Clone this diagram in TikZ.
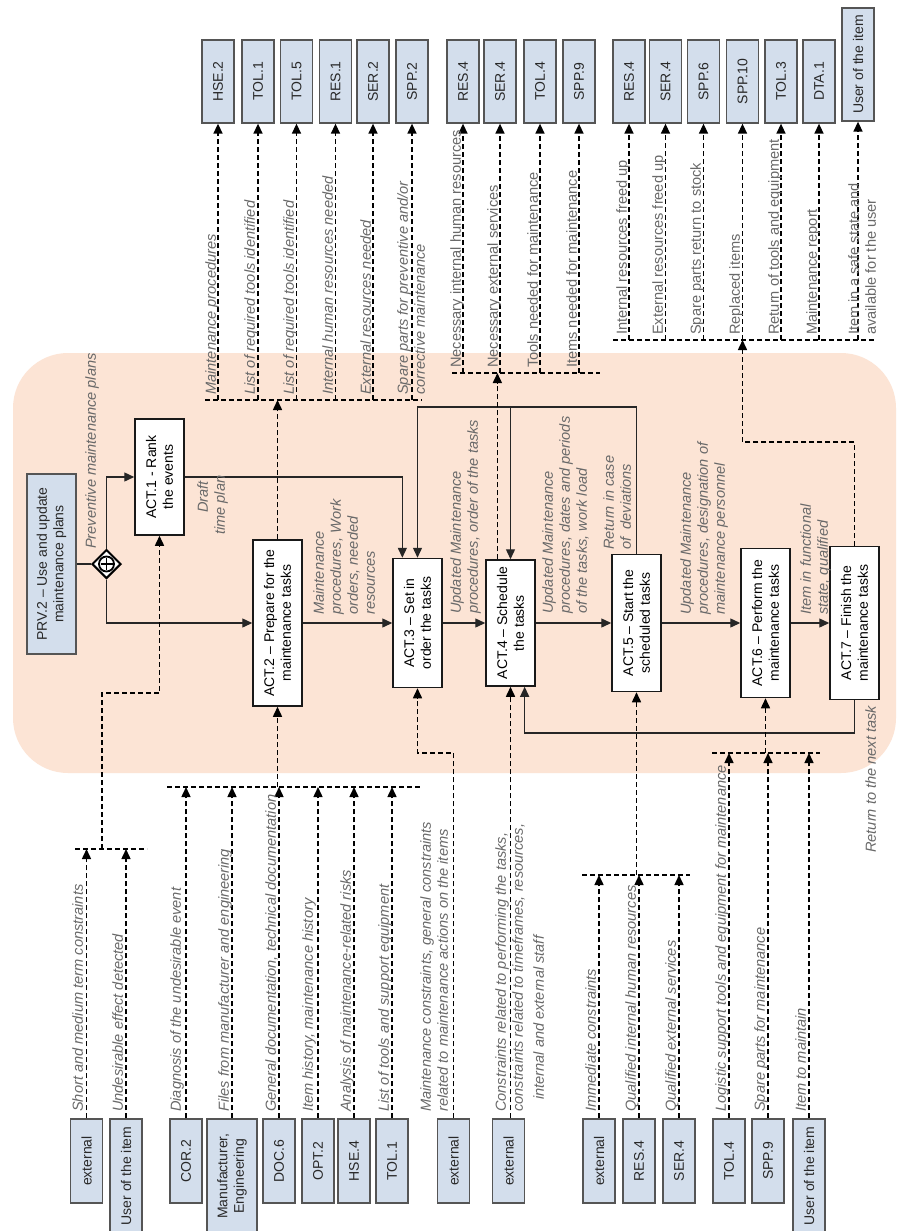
\documentclass[tikz,border=0pt]{standalone}
\usepackage{fontspec}
\setmainfont{Liberation Sans}
\usetikzlibrary{arrows.meta,shapes.geometric,calc}

\definecolor{areafill}{RGB}{252,228,213}
\definecolor{boxblue}{RGB}{211,222,236}
\definecolor{boxline}{RGB}{85,85,85}
\definecolor{labelgray}{RGB}{105,105,105}
\definecolor{boxtext}{RGB}{40,40,40}

\newcommand{\txtfont}{\fontsize{14}{16.7}\selectfont}
\newcommand{\labfont}{\fontsize{14.6}{17}\selectfont}

\tikzset{
  every node/.style={inner sep=0pt},
  refbox/.style={draw=boxline, line width=1.3pt, fill=boxblue, rotate=90,
    minimum width=84pt, minimum height=32pt, text=boxtext, font=\txtfont, align=center},
  tallbox/.style={refbox, minimum width=114pt},
  actbox/.style={draw=black!90, line width=1.5pt, fill=white, rotate=90,
    minimum height=49pt, text=black, font=\txtfont, align=center},
  lab/.style={rotate=90, anchor=north west, text=labelgray, font=\labfont\itshape, align=left},
  labup/.style={rotate=90, anchor=north west, text=labelgray, font=\labfont, align=left},
  dl/.style={draw=black, line width=1.5pt, dash pattern=on 5pt off 3pt},
  sl/.style={draw=black!85, line width=1.4pt},
  arr/.style={-{Triangle[length=10pt,width=9pt]}},
  gateway/.style={diamond, draw=black, line width=2pt, fill=white, minimum width=29pt, minimum height=29pt}
}

\begin{document}
\begin{tikzpicture}[x=1pt,y=-1pt]
\useasboundingbox (0,0) rectangle (898,1231);
\fill[white] (0,0) rectangle (898,1231);

% process area
\fill[areafill, rounded corners=55pt] (13,353) rectangle (896,773);

% ---------- activities ----------
\node[refbox, minimum width=180pt, minimum height=49pt] (prv) at (51.5,564) {PRV.2 -- Use and update\\maintenance plans};
\node[gateway] (gw) at (106.5,564) {};
\draw[line width=1.8pt] (gw.center) circle (7.5pt);
\draw[line width=1.8pt] ($(gw.center)+(-6,0)$) -- ($(gw.center)+(6,0)$);
\draw[line width=1.8pt] ($(gw.center)+(0,-6)$) -- ($(gw.center)+(0,6)$);

\node[actbox, minimum width=116pt] (ACT1) at (159.5,477) {ACT.1 - Rank\\the events};
\node[actbox, minimum width=166pt] (ACT2) at (277.5,623) {ACT.2 -- Prepare for the\\maintenance tasks};
\node[actbox, minimum width=129pt] (ACT3) at (417.5,623) {ACT.3 -- Set in\\order the tasks};
\node[actbox, minimum width=126pt] (ACT4) at (510.5,623) {ACT.4 -- Schedule\\the tasks};
\node[actbox, minimum width=137pt] (ACT5) at (636.5,623) {ACT.5 -- Start the\\scheduled tasks};
\node[actbox, minimum width=149pt] (ACT6) at (765.5,623) {ACT.6 -- Perform the\\maintenance tasks};
\node[actbox, minimum width=153pt] (ACT7) at (854.5,623) {ACT.7 -- Finish the\\maintenance tasks};

% ---------- input references ----------
\node[refbox] (i1) at (86.5,1161) {external};
\node[tallbox] (i2) at (126,1176) {User of the item};
\node[refbox] (i3) at (186,1161) {COR.2};
\node[tallbox, minimum height=50pt] (i4) at (232,1176) {Manufacturer,\\Engineering};
\node[refbox] (i5) at (279,1161) {DOC.6};
\node[refbox] (i6) at (318,1161) {OPT.2};
\node[refbox] (i7) at (354,1161) {HSE.4};
\node[refbox] (i8) at (392,1161) {TOL.1};
\node[refbox] (i9) at (453.5,1161) {external};
\node[refbox] (i10) at (508.5,1161) {external};
\node[refbox] (i11) at (599,1161) {external};
\node[refbox] (i12) at (639,1161) {RES.4};
\node[refbox] (i13) at (679,1161) {SER.4};
\node[refbox] (i14) at (729,1161) {TOL.4};
\node[refbox] (i15) at (768,1161) {SPP.9};
\node[tallbox] (i16) at (809,1176) {User of the item};

% ---------- output references ----------
\node[refbox, minimum width=83pt] (o1) at (218,81.5) {HSE.2};
\node[refbox, minimum width=83pt] (o2) at (258,81.5) {TOL.1};
\node[refbox, minimum width=83pt] (o3) at (296.5,81.5) {TOL.5};
\node[refbox, minimum width=83pt] (o4) at (335.5,81.5) {RES.1};
\node[refbox, minimum width=83pt] (o5) at (373,81.5) {SER.2};
\node[refbox, minimum width=83pt] (o6) at (412,81.5) {SPP.2};
\node[refbox, minimum width=83pt] (o7) at (463,81.5) {RES.4};
\node[refbox, minimum width=83pt] (o8) at (500,81.5) {SER.4};
\node[refbox, minimum width=83pt] (o9) at (540,81.5) {TOL.4};
\node[refbox, minimum width=83pt] (o10) at (579,81.5) {SPP.9};
\node[refbox, minimum width=83pt] (o11) at (629,81.5) {RES.4};
\node[refbox, minimum width=83pt] (o12) at (665.5,81.5) {SER.4};
\node[refbox, minimum width=83pt] (o13) at (703.5,81.5) {SPP.6};
\node[refbox, minimum width=83pt] (o14) at (742.5,81.5) {SPP.10};
\node[refbox, minimum width=83pt] (o15) at (781,81.5) {TOL.3};
\node[refbox, minimum width=83pt] (o16) at (819,81.5) {DTA.1};
\node[refbox, minimum width=113pt] (o17) at (858,64.5) {User of the item};

% ---------- collector levels ----------
\coordinate (k1) at (0,400);
\coordinate (k2) at (0,373);
\coordinate (k3) at (0,340);
\coordinate (c1) at (0,849);
\coordinate (c2) at (0,787);
\coordinate (c3) at (0,875);
\coordinate (c4) at (0,753);
\coordinate (j1) at (102,849);
\coordinate (j1t) at (0,693);
\coordinate (j3) at (0,753);
\coordinate (g3turn) at (0,442);
\coordinate (rtop) at (0,407);
\coordinate (rbot) at (0,733);
\coordinate (a3inA) at ($(ACT3.north east)!0.2!(ACT3.south east)$);
\coordinate (a4out) at ($(ACT4.north east)!0.24!(ACT4.south east)$);
\coordinate (a4inB) at ($(ACT4.north west)!0.78!(ACT4.south west)$);

% ---------- control flow ----------
\draw[sl] (prv.south) -- (gw.west);
\draw[sl,arr] (gw.north) |- (ACT1.north);
\draw[sl,arr] (gw.south) |- (ACT2.north);
\draw[sl,arr] (ACT1.south) -| (a3inA);
\draw[sl,arr] (ACT2.south) -- (ACT3.north);
\draw[sl,arr] (ACT3.south) -- (ACT4.north);
\draw[sl,arr] (ACT4.south) -- (ACT5.north);
\draw[sl,arr] (ACT5.south) -- (ACT6.north);
\draw[sl,arr] (ACT6.south) -- (ACT7.north);
\draw[sl,arr] (ACT5.east) |- (ACT3.east |- rtop) -- (ACT3.east);
\draw[sl,arr] (ACT4.east |- rtop) -- (ACT4.east);
\draw[sl,arr] (ACT7.west) |- (a4inB |- rbot) -- (a4inB);

% ---------- input collectors ----------
\draw[dl] (75,849) -- (147,849);
\foreach \n in {i1,i2} \draw[dl,arr] (\n.east) -- (\n.east |- c1);
\draw[dl,arr] (j1) |- (ACT1.west |- j1t) -- (ACT1.west);

\draw[dl] (167,787) -- (420,787);
\foreach \n in {i3,i4,i5,i6,i7,i8} \draw[dl,arr] (\n.east) -- (\n.east |- c2);
\draw[dl,arr] (ACT2.west |- c2) -- (ACT2.west);

\draw[dl,arr] (i9.east) |- (ACT3.west |- j3) -- (ACT3.west);
\draw[dl,arr] (ACT4.west |- i10.east) -- (ACT4.west);

\draw[dl] (582,875) -- (690,875);
\foreach \n in {i11,i12,i13} \draw[dl,arr] (\n.east) -- (\n.east |- c3);
\draw[dl,arr] (ACT5.west |- c3) -- (ACT5.west);

\draw[dl] (712,753) -- (820,753);
\foreach \n in {i14,i15,i16} \draw[dl,arr] (\n.east) -- (\n.east |- c4);
\draw[dl,arr] (ACT6.west |- c4) -- (ACT6.west);

% ---------- output collectors ----------
\draw[dl] (205,400) -- (422,400);
\draw[dl,arr] (ACT2.east) -- (ACT2.east |- k1);
\foreach \n in {o1,o2,o3,o4,o5,o6} \draw[dl,arr] (\n.west |- k1) -- (\n.west);

\draw[dl] (452,373) -- (600,373);
\draw[dl,arr] (a4out) -- (a4out |- k2);
\foreach \n in {o7,o8,o9,o10} \draw[dl,arr] (\n.west |- k2) -- (\n.west);

\draw[dl] (613,340) -- (876,340);
\draw[dl,arr] (ACT7.east) |- (o14.west |- g3turn) -- (o14.west |- k3);
\foreach \n in {o11,o12,o13,o14,o15,o16,o17} \draw[dl,arr] (\n.west |- k3) -- (\n.west);

% ---------- input labels ----------
\node[lab] (l1) at (72,1112) {Short and medium term constraints};
\node[lab] (l2) at (112,1112) {Undesirable effect detected};
\node[lab] (l3) at (170,1112) {Diagnosis of the undesirable event};
\node[lab] (l4) at (218,1112) {Files from manufacturer and engineering};
\node[lab] (l5) at (265,1112) {General documentation, technical documentation};
\node[lab] (l6) at (302,1112) {Item history, maintenance history};
\node[lab] (l7) at (340,1112) {Analysis of maintenance-related risks};
\node[lab] (l8) at (378,1112) {List of tools and support equipment};
\node[lab] (l9) at (420,1112) {Maintenance constraints, general constraints\\related to maintenance actions on the items};
\node[lab] (l10) at (495,1112) {Constraints related to performing the tasks,\\constraints related to timeframes, resources,\\[4pt]\hspace*{12pt}internal and external staff};
\node[lab] (l11) at (585,1112) {Immediate constraints};
\node[lab] (l12) at (625,1112) {Qualified internal human resources};
\node[lab] (l13) at (665,1112) {Qualified external services};
\node[lab] (l14) at (715,1112) {Logistic support tools and equipment for maintenance};
\node[lab] (l15) at (754,1112) {Spare parts for maintenance};
\node[lab] (l16) at (795,1112) {Item to maintain};

% ---------- output labels ----------
\node[lab] (m1) at (205,395) {Maintenance procedures};
\node[lab] (m2) at (244,395) {List of required tools identified};
\node[lab] (m3) at (283,395) {List of required tools identified};
\node[lab] (m4) at (322,395) {Internal human resources needed};
\node[lab] (m5) at (360,395) {External resources needed};
\node[lab] (m6) at (397,395) {Spare parts for preventive and/or\\corrective maintenance};
\node[labup] (m7) at (450,368) {Necessary internal human resources};
\node[labup] (m8) at (487,368) {Necessary external services};
\node[labup] (m9) at (527,368) {Tools needed for maintenance};
\node[labup] (m10) at (566,368) {Items needed for maintenance};
\node[labup] (m11) at (616,335) {Internal resources freed up};
\node[labup] (m12) at (652,335) {External resources freed up};
\node[labup] (m13) at (690,335) {Spare parts return to stock};
\node[labup] (m14) at (729,335) {Replaced items};
\node[labup] (m15) at (768,335) {Return of tools and equipment};
\node[labup] (m16) at (806,335) {Maintenance report};
\node[labup] (m17) at (848,335) {Item in a safe state and\\available for the user};

% ---------- flow labels ----------
\node[lab] (f1) at (85,549) {Preventive maintenance plans};
\node[lab] (f2) at (197,535) {\hspace*{22pt}Draft\\time plan};
\node[lab] (f3) at (313,615) {Maintenance\\procedures, Work\\orders, needed\\resources};
\node[lab] (f4) at (450,614) {Updated Maintenance\\procedures, order of the tasks};
\node[lab] (f5) at (542,614) {Updated Maintenance\\procedures, dates and periods\\of the tasks, work load};
\node[lab] (f6) at (603,550) {Return in case\\of \ deviations};
\node[lab] (f7) at (680,615) {Updated Maintenance\\procedures, designation of\\maintenance personnel};
\node[lab] (f8) at (800,615) {Item in functional\\state, qualified};
\node[lab] (f9) at (865,853) {Return to the next task};
\end{tikzpicture}
\end{document}
